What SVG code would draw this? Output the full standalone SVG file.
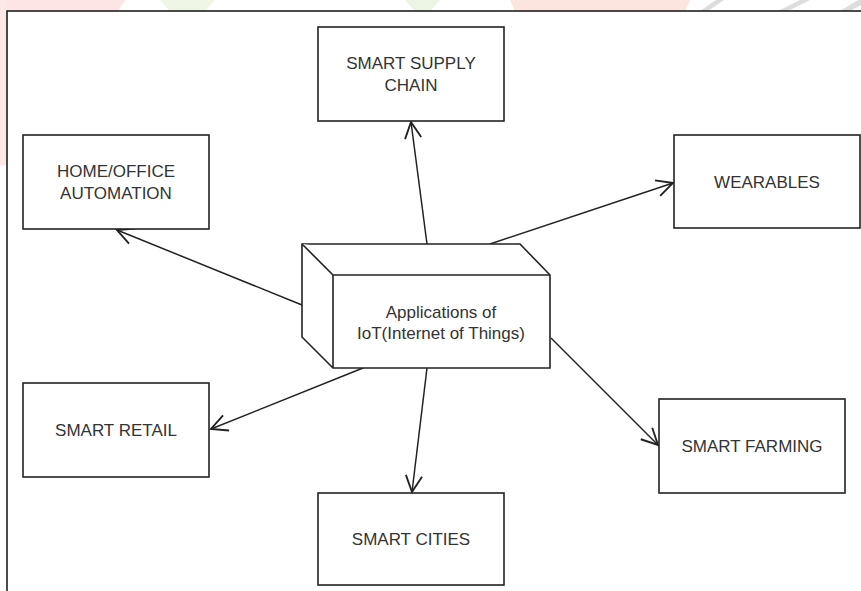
<svg xmlns="http://www.w3.org/2000/svg" width="861" height="591" viewBox="0 0 861 591">
<style>
.box{fill:#fff;stroke:#222;stroke-width:1.6}
.lbl{font-family:"Liberation Sans",Arial,sans-serif;font-size:17px;fill:#333;text-anchor:middle}
.conn{stroke:#222;stroke-width:1.5;fill:none}
</style>
<defs>
<marker id="arr" markerUnits="userSpaceOnUse" markerWidth="20" markerHeight="20" viewBox="-14 -8 16 16" refX="0" refY="0" orient="auto">
<path d="M-13,-6.5 L0,0 L-13,6.5" fill="none" stroke="#222" stroke-width="1.5"/>
</marker>
</defs>
<rect width="861" height="591" fill="#fff"/>
<g id="watermark" opacity="0.9">
<path d="M0,0 H125 L118,11 H0 Z" fill="#fde3e3"/>
<path d="M0,0 H7 V165 H0 Z" fill="#fde6e6"/>
<path d="M160,0 H215 L205,11 H170 Z" fill="#eef6e4"/>
<path d="M405,0 H440 L430,11 H415 Z" fill="#eaf5e0"/>
<path d="M510,0 H690 L685,11 H515 Z" fill="#fde3dc"/>
<path d="M700,11 L716,0 H724 L708,11 Z" fill="#dadada"/>
<path d="M778,11 L800,0 H810 L788,11 Z" fill="#dadada"/>
<path d="M840,11 L858,0 H861 V5 L850,11 Z" fill="#dadada"/>
</g>
<path d="M7,591 V11 H861" fill="none" stroke="#111" stroke-width="1.5"/>
<g id="connectors">
<line class="conn" x1="427" y1="244" x2="411" y2="122" marker-end="url(#arr)"/>
<line class="conn" x1="490" y1="244" x2="673" y2="183" marker-end="url(#arr)"/>
<line class="conn" x1="302" y1="305" x2="117" y2="230" marker-end="url(#arr)"/>
<line class="conn" x1="363" y1="368" x2="211" y2="429" marker-end="url(#arr)"/>
<line class="conn" x1="427" y1="368" x2="412" y2="492" marker-end="url(#arr)"/>
<line class="conn" x1="551" y1="338" x2="658" y2="445" marker-end="url(#arr)"/>
</g>
<g id="center">
<path class="box" d="M302,244 H520 L550,275 V368 H333 L302,337 Z"/>
<path class="box" fill="none" d="M302,244 L333,275 H550 M333,275 V368"/>
<text class="lbl" x="441" y="318">Applications of</text>
<text class="lbl" x="441" y="339">IoT(Internet of Things)</text>
</g>
<g id="supply">
<rect class="box" x="318" y="27" width="186" height="94"/>
<text class="lbl" x="411" y="69">SMART SUPPLY</text>
<text class="lbl" x="411" y="91">CHAIN</text>
</g>
<g id="home">
<rect class="box" x="23" y="135" width="186" height="94"/>
<text class="lbl" x="116" y="177">HOME/OFFICE</text>
<text class="lbl" x="116" y="199">AUTOMATION</text>
</g>
<g id="wearables">
<rect class="box" x="674" y="135" width="186" height="93"/>
<text class="lbl" x="767" y="188">WEARABLES</text>
</g>
<g id="retail">
<rect class="box" x="23" y="383" width="186" height="94"/>
<text class="lbl" x="116" y="436">SMART RETAIL</text>
</g>
<g id="farming">
<rect class="box" x="659" y="399" width="186" height="94"/>
<text class="lbl" x="752" y="452">SMART FARMING</text>
</g>
<g id="cities">
<rect class="box" x="318" y="493" width="186" height="92"/>
<text class="lbl" x="411" y="545">SMART CITIES</text>
</g>
</svg>
